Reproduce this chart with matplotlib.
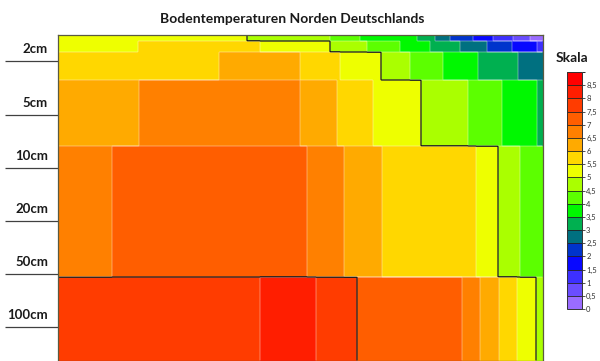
import numpy as np
import matplotlib
matplotlib.use('Agg')
import matplotlib.pyplot as plt
from matplotlib.colors import ListedColormap, BoundaryNorm
from matplotlib.cm import ScalarMappable

# ---------------- data ----------------
title = 'Bodentemperaturen Norden Deutschlands'
depth_labels = ['2cm', '5cm', '10cm', '20cm', '50cm', '100cm']
depth_tick_pos = [26, 80, 133, 186, 239, 292]          # depth-axis position of each label line
layer_edges = [0, 6, 17, 45, 111, 242, 326]            # depth-axis limits of the drawn layers
time_span = 485

# time breakpoints and band values (lower band limit, °C) per layer
layer0_breaks = [0, 189, 272, 302, 359, 377, 392, 415, 435, 455, 472, 485]
layer0_values = [5, 4.5, 4, 3.5, 3, 2.5, 2, 1.5, 1, 0.5, 0]
layer1_breaks = [0, 80, 202, 272, 309, 342, 372, 402, 429, 454, 479, 485]
layer1_values = [5, 5.5, 5, 4.5, 4, 3.5, 3, 2.5, 2, 1.5, 1]
layer2_breaks = [0, 161, 242, 282, 323, 352, 385, 420, 460, 485]
layer2_values = [5.5, 6, 5.5, 5, 4.5, 4, 3.5, 3, 2.5]
layer3_breaks = [0, 81, 242, 279, 315, 363, 410, 444, 479, 485]
layer3_values = [6, 6.5, 6, 5.5, 5, 4.5, 4, 3.5, 3]
layer4_breaks = [0, 54, 249, 286, 324, 418, 440, 462, 485]
layer4_values = [6.5, 7, 6.5, 6, 5.5, 5, 4.5, 4]
layer5_breaks = [0, 202, 258, 299, 404, 422, 441, 459, 478, 485]
layer5_values = [7.5, 8, 7.5, 7, 6.5, 6, 5.5, 5, 4.5]

scale_levels = np.arange(0, 9.01, 0.5)
scale_colors = ['#9a6cff', '#6a4dff', '#3d30ff', '#0808ff', '#0034cc', '#007080',
                '#00b050', '#00f800', '#5cff00', '#aaff00', '#eeff00', '#ffd700',
                '#ffaa00', '#ff8000', '#ff5e00', '#ff3c00', '#ff1e00', '#ff0000']
highlight_levels = [5, 7.5]

layers = [(layer0_breaks, layer0_values), (layer1_breaks, layer1_values),
          (layer2_breaks, layer2_values), (layer3_breaks, layer3_values),
          (layer4_breaks, layer4_values), (layer5_breaks, layer5_values)]

# ---------------- figure ----------------
plt.rcParams['font.family'] = ['Lato', 'DejaVu Sans']
fig = plt.figure(figsize=(6.0, 3.61), dpi=100)
ax = fig.add_axes([58 / 600, 0, 485 / 600, 326 / 361])

cmap = ListedColormap(scale_colors)
norm = BoundaryNorm(scale_levels, cmap.N)

for i, (br, vals) in enumerate(layers):
    X = np.array(br, dtype=float)
    Y = np.array([layer_edges[i], layer_edges[i + 1]], dtype=float)
    C = np.array(vals, dtype=float)[None, :] + 0.25
    ax.pcolormesh(X, Y, C, cmap=cmap, norm=norm, shading='flat',
                  edgecolors='none', antialiased=False)

# fine field for band borders
xc = np.arange(time_span) + 0.5
yc = np.arange(layer_edges[-1]) + 0.5
field = np.zeros((len(yc), len(xc)))
for j, y in enumerate(yc):
    li = np.searchsorted(layer_edges, y) - 1
    br, vals = layers[li]
    k = np.searchsorted(br, xc) - 1
    field[j] = np.array(vals)[k] + 0.25
ax.contour(xc, yc, field, levels=scale_levels[1:-1], colors='white',
           linewidths=0.6, alpha=0.45)
ax.contour(xc, yc, field, levels=highlight_levels, colors='#1a1a1a',
           linewidths=0.9)

ax.set_xlim(0, time_span)
ax.set_ylim(layer_edges[-1], 0)
ax.set_xticks([])
ax.set_yticks(depth_tick_pos)
ax.set_yticklabels([''] * len(depth_tick_pos))
ax.tick_params(axis='y', length=38, width=0.9, color='#404040', direction='out')
for s in ax.spines.values():
    s.set_color('#5a5a40')
    s.set_linewidth(0.9)

for lab, pos in zip(depth_labels, depth_tick_pos):
    ax.annotate(lab, xy=(0, pos), xycoords=('axes fraction', 'data'),
                xytext=(-7.2, 5.6), textcoords='offset points',
                ha='right', va='baseline', fontsize=9.5, fontweight='bold',
                color='#1a1a1a', annotation_clip=False)

fig.text(292 / 600, 1 - 19 / 361, title, ha='center', va='center',
         fontsize=10, fontweight='bold', color='#1a1a1a')

# colour scale
cax = fig.add_axes([567 / 600, (361 - 309) / 361, 15 / 600, (309 - 72) / 361])
sm = ScalarMappable(norm=norm, cmap=cmap)
cb = fig.colorbar(sm, cax=cax, boundaries=scale_levels, ticks=scale_levels[:-1],
                  drawedges=True)
cb.ax.set_yticklabels([('%g' % v).replace('.', ',') for v in scale_levels[:-1]])
cb.ax.tick_params(labelsize=5.5, length=2.5, width=0.6, pad=0.5, colors='#333333')
cb.outline.set_edgecolor('#333333')
cb.outline.set_linewidth(0.7)
cb.dividers.set_color('#222222')
cb.dividers.set_linewidth(0.6)
fig.text(556 / 600, 1 - 58 / 361, 'Skala', ha='left', va='center',
         fontsize=10, fontweight='bold', color='#1a1a1a')

fig.savefig('out.png', dpi=100)
